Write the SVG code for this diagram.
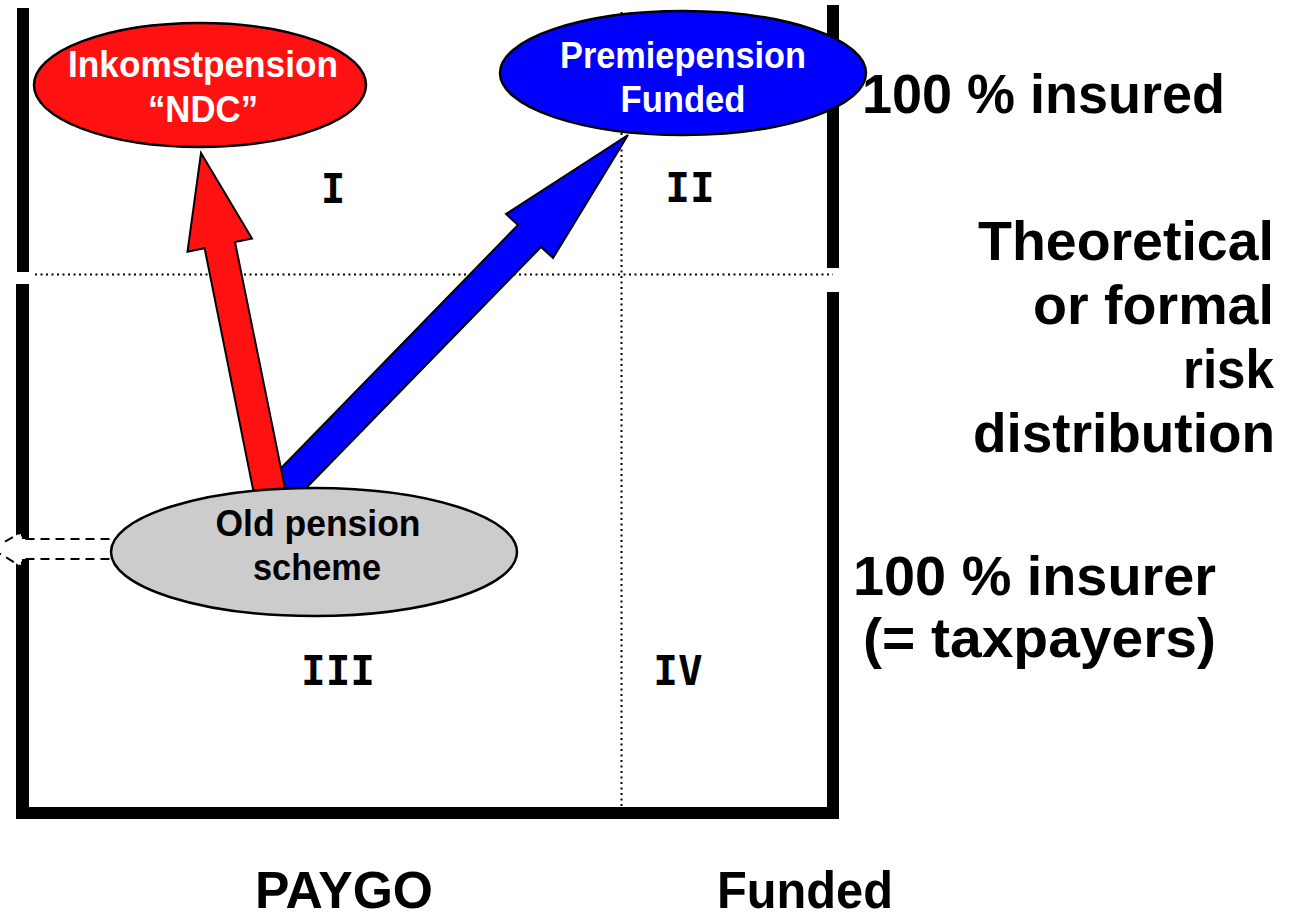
<svg xmlns="http://www.w3.org/2000/svg" width="1294" height="920" viewBox="0 0 1294 920">
  <style>
    .bar { fill: #000; }
    .dot { stroke: #000; stroke-width: 2; stroke-dasharray: 2 3.5; fill: none; }
    .node { stroke: #000; stroke-width: 2.5; }
    .arrow { stroke: #000; stroke-width: 2; stroke-linejoin: miter; }
    .lbl { font-family: "Liberation Sans", Arial, sans-serif; font-weight: bold; }
    .in { font-size: 36px; text-anchor: middle; }
    .big { font-size: 56px; fill: #000; }
    .num { font-family: "DejaVu Sans Mono", "Liberation Mono", monospace; font-weight: bold; font-size: 41px; text-anchor: middle; fill: #000; }
  </style>
  <rect width="1294" height="920" fill="#fff"/>

  <g id="frame">
    <rect class="bar" x="17" y="8" width="12" height="264"/>
    <rect class="bar" x="16" y="284" width="13" height="535"/>
    <rect class="bar" x="16" y="807" width="823" height="12"/>
    <rect class="bar" x="827" y="5" width="12" height="263"/>
    <rect class="bar" x="827" y="292" width="12" height="527"/>
    <line class="dot" x1="35" y1="274.5" x2="833" y2="274.5"/>
    <line class="dot" x1="621.5" y1="12" x2="621.5" y2="807"/>
  </g>

  <g id="quadrants">
    <text class="num" x="333" y="203">I</text>
    <text class="num" x="690" y="202">II</text>
    <text class="num" x="338" y="685">III</text>
    <text class="num" x="678" y="685">IV</text>
  </g>

  <g id="connectors">
    <polygon class="arrow" fill="#fff" stroke-dasharray="9 6" points="-8,549 22,532 22,539 125,539 125,559 22,559 22,567"/>
    <polygon class="arrow" fill="#0000ff" points="628,135 553,258 541,247 291.5,503 268.5,481 518,225 506,214"/>
    <polygon class="arrow" fill="#ff1111" points="201,153 252,238.5 235,242 288,503 257,509 204.6,248.2 187.5,251.7"/>
  </g>

  <g id="node-inkomstpension">
    <ellipse class="node" cx="200" cy="85" rx="166" ry="62" fill="#ff1111"/>
    <text class="lbl in" x="203" y="77" fill="#fff" textLength="270" lengthAdjust="spacingAndGlyphs">Inkomstpension</text>
    <text class="lbl in" x="203" y="122" fill="#fff" textLength="110" lengthAdjust="spacingAndGlyphs">“NDC”</text>
  </g>

  <g id="node-premiepension">
    <ellipse class="node" cx="683" cy="73" rx="183" ry="62" fill="#0000ff"/>
    <text class="lbl in" x="683" y="68" fill="#fff" textLength="246" lengthAdjust="spacingAndGlyphs">Premiepension</text>
    <text class="lbl in" x="683" y="112" fill="#fff" textLength="125" lengthAdjust="spacingAndGlyphs">Funded</text>
  </g>

  <g id="node-old">
    <ellipse class="node" cx="314" cy="552" rx="203" ry="64" fill="#cccccc"/>
    <text class="lbl in" x="318" y="536" fill="#000" textLength="205" lengthAdjust="spacingAndGlyphs">Old pension</text>
    <text class="lbl in" x="317" y="580" fill="#000" textLength="128" lengthAdjust="spacingAndGlyphs">scheme</text>
  </g>

  <g id="axis-labels">
    <text class="lbl big" x="862" y="113" textLength="363" lengthAdjust="spacingAndGlyphs">100 % insured</text>
    <text class="lbl big" x="978" y="260" textLength="296" lengthAdjust="spacingAndGlyphs">Theoretical</text>
    <text class="lbl big" x="1033" y="324" textLength="241" lengthAdjust="spacingAndGlyphs">or formal</text>
    <text class="lbl big" x="1183" y="388" textLength="91" lengthAdjust="spacingAndGlyphs">risk</text>
    <text class="lbl big" x="973" y="452" textLength="302" lengthAdjust="spacingAndGlyphs">distribution</text>
    <text class="lbl big" x="853" y="595" textLength="363" lengthAdjust="spacingAndGlyphs">100 % insurer</text>
    <text class="lbl big" x="863" y="657" textLength="353" lengthAdjust="spacingAndGlyphs">(= taxpayers)</text>
    <text class="lbl big" x="255" y="908" style="font-size:52px" textLength="178" lengthAdjust="spacingAndGlyphs">PAYGO</text>
    <text class="lbl big" x="717" y="908" style="font-size:52px" textLength="176" lengthAdjust="spacingAndGlyphs">Funded</text>
  </g>
</svg>
